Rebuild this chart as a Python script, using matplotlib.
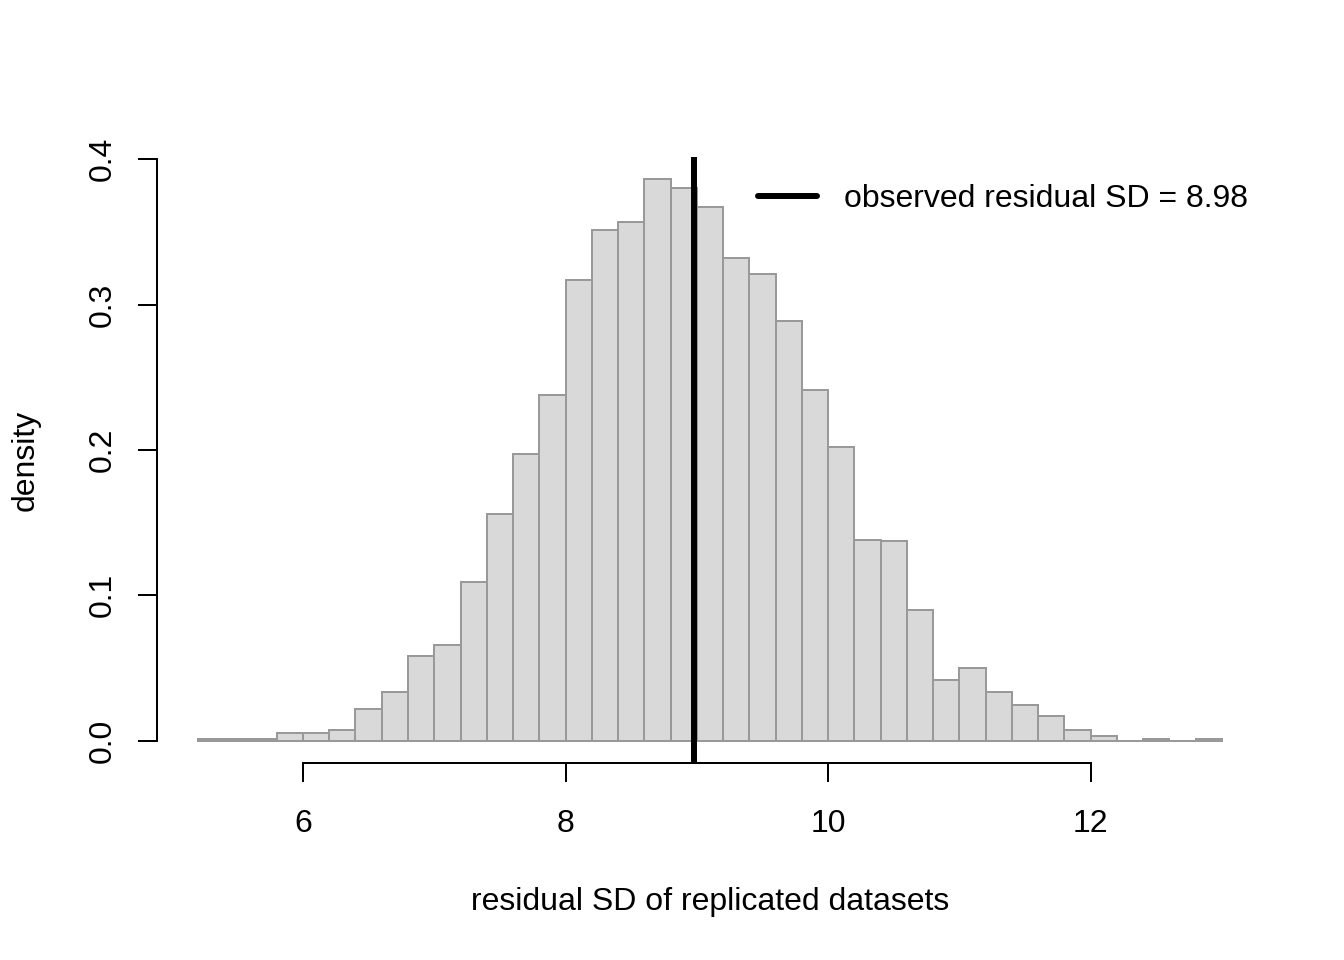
import numpy as np
import matplotlib.pyplot as plt

# histogram of replicated residual SDs (density scale), bins of width 0.2
bin_edges = np.round(np.arange(5.2, 13.0001, 0.2), 1)
density = [0.0012, 0.0012, 0.0012, 0.005, 0.005, 0.0073, 0.022, 0.0335,
           0.058, 0.066, 0.109, 0.156, 0.197, 0.238, 0.317, 0.351,
           0.357, 0.386, 0.380, 0.367, 0.332, 0.321, 0.289, 0.241,
           0.202, 0.138, 0.137, 0.090, 0.042, 0.0497, 0.0337, 0.0247,
           0.0172, 0.0076, 0.0034, 0.0, 0.0012, 0.0, 0.0012]
observed_sd = 8.98

plt.rcParams['font.family'] = ['Liberation Sans', 'DejaVu Sans']

fig = plt.figure(figsize=(13.44, 9.6), dpi=100)
ax = fig.add_axes([0.1168, 0.2052, 0.8229, 0.6313])

ax.bar(bin_edges[:-1], density, width=0.2, align='edge',
       facecolor='#D9D9D9', edgecolor='#999999', linewidth=1.44)
ax.axvline(observed_sd, color='black', linewidth=4.3)
ax.plot([], [], color='black', linewidth=4.3, solid_capstyle='round',
        label='observed residual SD = %.2f' % observed_sd)

ax.set_xlim(4.888, 13.312)
ax.set_ylim(-0.0154, 0.4015)

for s in ['top', 'right']:
    ax.spines[s].set_visible(False)
ax.spines['left'].set_bounds(0, 0.4)
ax.spines['bottom'].set_bounds(6, 12)
for s in ['left', 'bottom']:
    ax.spines[s].set_linewidth(1.44)

ax.set_xticks([6, 8, 10, 12])
ax.set_yticks([0.0, 0.1, 0.2, 0.3, 0.4])
ax.set_yticklabels(['0.0', '0.1', '0.2', '0.3', '0.4'], rotation=90, va='center')
ax.tick_params(axis='both', length=14, width=1.44, labelsize=23)
ax.tick_params(axis='x', pad=19)
ax.tick_params(axis='y', pad=14)

ax.set_xlabel('residual SD of replicated datasets', fontsize=23, labelpad=35)
ax.set_ylabel('density', fontsize=23, labelpad=34)

ax.legend(loc='center right', bbox_to_anchor=(0.9865, 0.930), frameon=False,
          fontsize=23, handlelength=1.85, handletextpad=0.85,
          borderaxespad=0, borderpad=0)

fig.savefig('out.png', dpi=100)
